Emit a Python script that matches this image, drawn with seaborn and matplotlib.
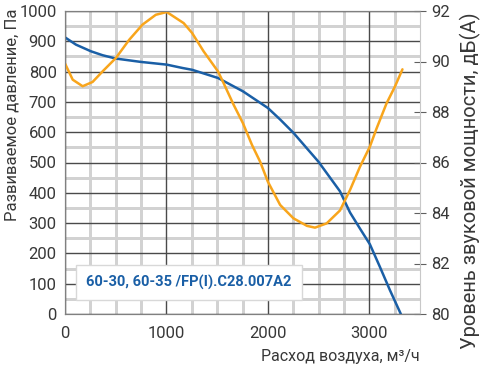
import matplotlib
matplotlib.use("Agg")
import matplotlib.pyplot as plt
import pandas as pd
import seaborn as sns
from matplotlib.ticker import MultipleLocator

# pressure curve, Pa
flow_pressure = [0, 108, 256, 371, 502, 747, 1003, 1157, 1253, 1508, 1754, 2000, 2121, 2252,
                 2498, 2711, 2810, 2908, 3006, 3104, 3203, 3311]
pressure = [913, 889, 867, 854, 843, 832, 823, 812, 806, 779, 735, 680, 642, 598,
            503, 405, 335, 282, 230, 156, 79, 0]

# sound power curve, dB(A)
flow_sound = [0, 76, 174, 272, 371, 502, 633, 764, 895, 1003, 1170, 1253, 1367, 1508, 1563,
              1662, 1754, 1843, 1924, 2000, 2121, 2252, 2386, 2465, 2580, 2711, 2810, 2908,
              3006, 3072, 3170, 3252, 3327]
sound = [89.92, 89.28, 89.02, 89.19, 89.61, 90.14, 90.86, 91.46, 91.85, 91.96, 91.52, 91.13,
         90.40, 89.61, 89.15, 88.29, 87.56, 86.70, 86.03, 85.24, 84.32, 83.79, 83.49, 83.42,
         83.59, 84.1, 84.91, 85.83, 86.63, 87.35, 88.34, 89.0, 89.69]

model_label = "60-30, 60-35 /FP(I).C28.007A2"

BLUE = "#1a5fa6"
ORANGE = "#f8a51c"
TEXT = "#383838"
MINOR = "#d2d2d2"
MAJOR = "#4a4a4a"

sns.set_style("white")
plt.rcParams["font.family"] = ["Roboto", "DejaVu Sans"]

df_p = pd.DataFrame({"flow": flow_pressure, "value": pressure})
df_s = pd.DataFrame({"flow": flow_sound, "value": sound})

fig = plt.figure(figsize=(4.87, 3.68), dpi=100)
ax = fig.add_axes([65 / 487, 1 - 314 / 368, 355 / 487, 303 / 368])
ax2 = ax.twinx()

sns.lineplot(data=df_p, x="flow", y="value", ax=ax, color=BLUE, linewidth=1.8)
sns.lineplot(data=df_s, x="flow", y="value", ax=ax2, color=ORANGE, linewidth=1.8)

ax.set_xlim(0, 3500)
ax.set_ylim(0, 1000)
ax2.set_ylim(80, 92)

ax.xaxis.set_major_locator(MultipleLocator(1000))
ax.yaxis.set_major_locator(MultipleLocator(100))
ax2.yaxis.set_major_locator(MultipleLocator(2))

for spine in ["left", "bottom", "top"]:
    ax.spines[spine].set_color("#808080")
    ax2.spines[spine].set_color("#808080")
ax.spines["right"].set_visible(False)
ax2.spines["right"].set_color("#c8c8c8")

ax.tick_params(axis="both", which="both", length=0, labelsize=12, labelcolor=TEXT)
ax.tick_params(axis="y", pad=6)
ax.tick_params(axis="x", pad=9)
ax2.tick_params(axis="y", which="major", length=8, direction="inout", color="#606060",
                labelsize=12, labelcolor=TEXT, pad=4)

ax.set_xlabel("Расход воздуха, м³/ч", fontsize=11.5, color=TEXT, loc="right")
ax.xaxis.set_label_coords(1.0, -0.115)
ax.xaxis.label.set_va("top")
ax.set_ylabel("Развиваемое давление, Па", fontsize=12, color=TEXT)
ax.yaxis.set_label_coords(-0.128, 0.657)
ax2.set_ylabel("Уровень звуковой мощности, дБ(А)", fontsize=14.5, color=TEXT)
ax2.yaxis.set_label_coords(1.112, 0.44)

ax.text(0.349, 0.104, model_label, transform=ax.transAxes, ha="center", va="center",
        fontsize=10.5, fontweight="semibold", color=BLUE, zorder=5,
        bbox=dict(boxstyle="square,pad=0.7", facecolor="white", edgecolor="#d8d8d8", linewidth=1))

# light minor grid (every 250 m3/h and 50 Pa), drawn crisp so it stays visible
for xv in MultipleLocator(250).tick_values(0, 3500):
    if 0 < xv < 3500 and xv % 1000:
        ax.axvline(xv, color=MINOR, linewidth=1.0, zorder=0.3, antialiased=False)
for yv in MultipleLocator(50).tick_values(0, 1000):
    if 0 < yv < 1000 and yv % 100:
        ax.axhline(yv, color=MINOR, linewidth=1.0, zorder=0.3, antialiased=False)

ax.set_axisbelow(True)
ax.grid(True, which="major", color=MAJOR, linewidth=1.0)
ax2.grid(False)

fig.savefig("out.png", dpi=100)
